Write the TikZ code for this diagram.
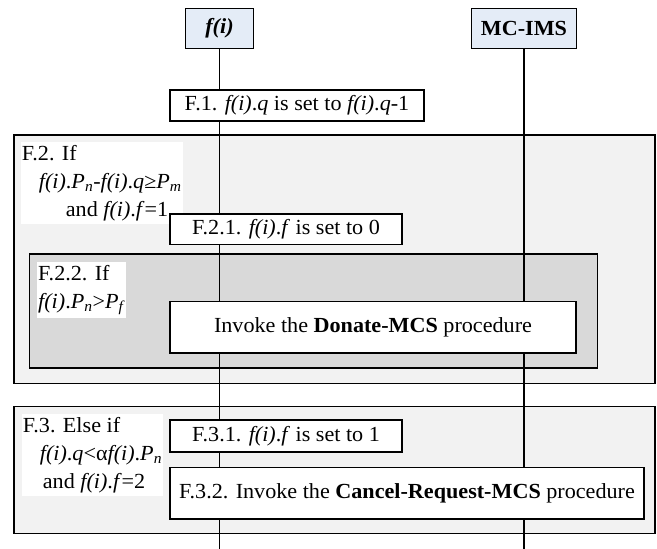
\documentclass[tikz,border=0pt]{standalone}
\usepackage{fontspec}
\setmainfont[FakeStretch=1.03]{Liberation Serif}
\usetikzlibrary{positioning}

\definecolor{headfill}{RGB}{228,236,247}
\newcommand{\fofi}{\textit{f(i)}}
\newcommand{\sub}[2]{\textit{#1}\textsubscript{\textit{#2}}}

\begin{document}
\begin{tikzpicture}[
  x=1pt, y=-1pt,
  head/.style={draw, fill=headfill, line width=0.9pt, minimum width=#1, minimum height=40pt, inner sep=0pt, font=\fontsize{21.5}{28}\selectfont\bfseries},
  act/.style={draw, fill=white, line width=1.1pt, inner sep=0pt},
  frame/.style={draw, line width=1.1pt, inner sep=0pt},
  cond/.style={fill=white, anchor=north west, align=left, inner xsep=1pt, inner ysep=3pt, font=\fontsize{21.5}{28}\selectfont},
  life/.style={line width=1.3pt},
  every node/.style={font=\fontsize{21.5}{27.5}\selectfont}
]
  \useasboundingbox (0,0) rectangle (657,549);

  % frames
  \node[frame, fill=black!5, minimum width=641pt, minimum height=248.5pt] (f2) at (334.5,259.25) {};
  \node[frame, fill=black!15, minimum width=568.4pt, minimum height=114pt] (f22) at (313.5,311) {};
  \node[frame, fill=black!5, minimum width=641pt, minimum height=127pt] (f3) at (334.5,470) {};

  % heads and lifelines
  \node[head=68pt] (fi) at (219.5,28) {\textit{f(i)}};
  \node[head=105pt] (ims) at (524,28) {MC-IMS};
  \coordinate (fiend) at (219.5,549);
  \coordinate (imsend) at (524,549);
  \draw[life] (fi.south) -- (fiend);
  \draw[life] (ims.south) -- (imsend);

  % steps
  \node[act, minimum width=254pt, minimum height=31pt] (s1) at (297,105.5)
    {F.1. \fofi.\textit{q} is set to \fofi.\textit{q}-1};

  \node[cond] (c2) at (20.7,142)
    {F.2. If\\
     \hspace*{17pt}\fofi.\sub{P}{n}-\fofi.\textit{q}≥\sub{P}{m}\\
     \hspace*{44pt}and \fofi.\textit{f}=1};
  \node[act, minimum width=232pt, minimum height=30.5pt] (s21) at (286,229.25)
    {F.2.1. \fofi.\textit{f} is set to 0};

  \node[cond] (c22) at (37,262)
    {F.2.2. If\\
     \fofi.\sub{P}{n}>\sub{P}{f}};
  \node[act, minimum width=406pt, minimum height=51.5pt] (don) at (373,327.25)
    {Invoke the \textbf{Donate-MCS} procedure};

  \node[cond] (c3) at (21.7,414)
    {F.3. Else if\\
     \hspace*{17pt}\fofi.\textit{q}<α\fofi.\sub{P}{n}\\
     \hspace*{20pt}and \fofi.\textit{f}=2};
  \node[act, minimum width=232pt, minimum height=32pt] (s31) at (286,436)
    {F.3.1. \fofi.\textit{f} is set to 1};
  \node[act, minimum width=474pt, minimum height=51.3pt] (s32) at (407,493.35)
    {F.3.2. Invoke the \textbf{Cancel-Request-MCS} procedure};
\end{tikzpicture}
\end{document}
